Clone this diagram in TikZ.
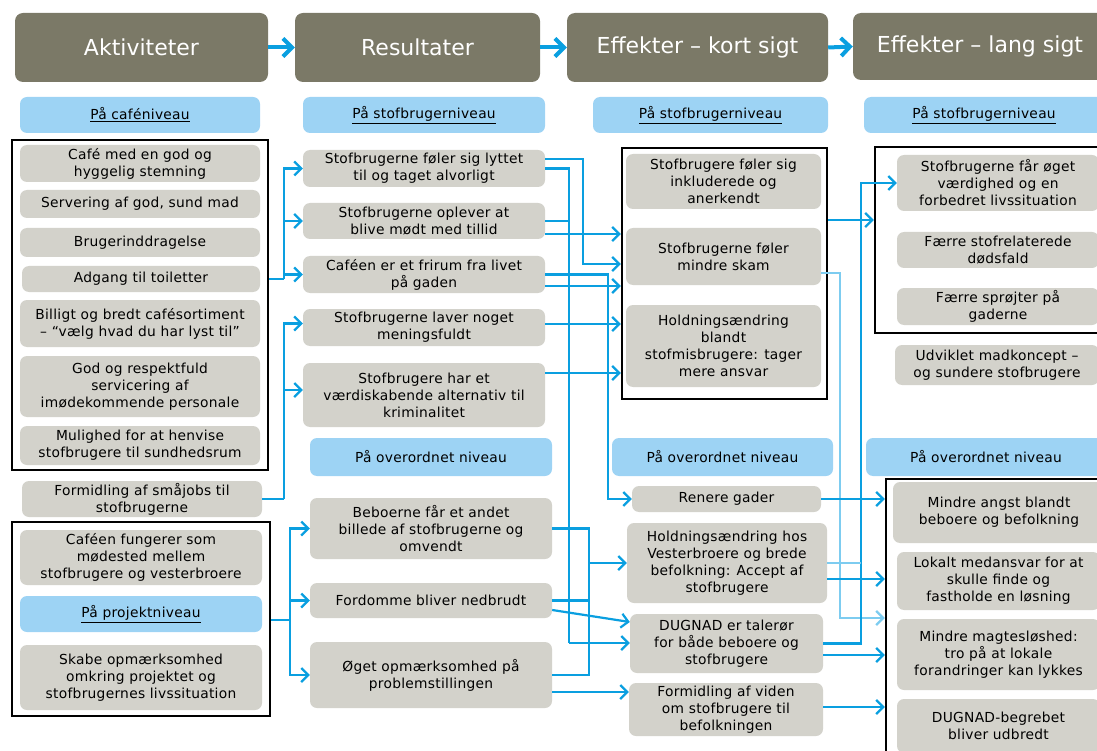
\documentclass[tikz,border=0pt]{standalone}
\usepackage{fontspec}
\setmainfont{DejaVu Sans}
\newfontfamily\bodyf[LetterSpace=2.0]{DejaVu Sans}
\usetikzlibrary{arrows.meta}
\definecolor{hdrgray}{HTML}{7B7967}
\definecolor{boxgray}{HTML}{D3D2CB}
\definecolor{lblue}{HTML}{9DD3F4}
\definecolor{ablue}{HTML}{0A9FE0}
\definecolor{pblue}{HTML}{7DCCF0}
\begin{document}
\begin{tikzpicture}[x=1pt,y=-1pt,
 hdr/.style={fill=hdrgray, rounded corners=8pt, text=white, font=\fontsize{22}{26}\selectfont, inner sep=0pt},
 gb/.style={fill=boxgray, rounded corners=7pt, align=center, inner sep=0pt, text=black, font=\bodyf\fontsize{13.8}{17}\selectfont},
 lb/.style={gb, fill=lblue},
 grp/.style={draw=black, line width=2.5pt, inner sep=0pt},
 conn/.style={draw=ablue, line width=2.2pt},
 arr/.style={conn, -{Straight Barb[length=7pt,width=14pt]}},
 pale/.style={draw=pblue, line width=2.2pt},
 harr/.style={draw=ablue, line width=4pt, -{Straight Barb[length=9pt,width=18pt]}},
]
\useasboundingbox (0,0) rectangle (1097,751);
\clip (0,0) rectangle (1097,751);

% headers
\node[hdr, minimum width=253pt, minimum height=69pt] (h1) at (141.5,47.5) {Aktiviteter};
\node[hdr, minimum width=245pt, minimum height=69pt] (h2) at (417.5,47.5) {Resultater};
\node[hdr, minimum width=261pt, minimum height=69pt] (h3) at (697.5,47.5) {Effekter – kort sigt};
\node[hdr, minimum width=254pt, minimum height=67pt] (h4) at (980,46.5) {Effekter – lang sigt};

% blue labels row 1
\node[lb, minimum width=240pt, minimum height=36pt] (b1) at (140,115) {\underline{På caféniveau}};
\node[lb, minimum width=242pt, minimum height=36pt] (b2) at (424,115) {\underline{På stofbrugerniveau}};
\node[lb, minimum width=235pt, minimum height=36pt] (b3) at (710.5,115) {\underline{På stofbrugerniveau}};
\node[lb, minimum width=240pt, minimum height=36pt] (b4) at (984,115) {\underline{På stofbrugerniveau}};

% column 1
\node[gb, minimum width=240pt, minimum height=37pt] (a1) at (140,163.5) {Café med en god og\\hyggelig stemning};
\node[gb, minimum width=240pt, minimum height=28pt] (a2) at (140,204) {Servering af god, sund mad};
\node[gb, minimum width=240pt, minimum height=29pt] (a3) at (140,242.5) {Brugerinddragelse};
\node[gb, minimum width=238pt, minimum height=26pt] (a4) at (141,279) {Adgang til toiletter};
\node[gb, minimum width=240pt, minimum height=47pt] (a5) at (140,323.5) {Billigt og bredt cafésortiment\\– “vælg hvad du har lyst til”};
\node[gb, minimum width=240pt, minimum height=61pt] (a6) at (140,386.5) {God og respektfuld\\servicering af\\imødekommende personale};
\node[gb, minimum width=240pt, minimum height=39pt] (a7) at (140,445.5) {Mulighed for at henvise\\stofbrugere til sundhedsrum};
\node[gb, minimum width=240pt, minimum height=36pt] (a8) at (142,499) {Formidling af småjobs til\\stofbrugerne};
\node[gb, minimum width=242pt, minimum height=55pt] (a9) at (141,557.5) {Caféen fungerer som\\mødested mellem\\stofbrugere og vesterbroere};
\node[lb, minimum width=242pt, minimum height=36pt] (b5) at (141,614) {\underline{På projektniveau}};
\node[gb, minimum width=242pt, minimum height=65pt] (a10) at (141,677.5) {Skabe opmærksomhed\\omkring projektet og\\stofbrugernes livssituation};

% column 2
\node[gb, minimum width=242pt, minimum height=37pt] (r1) at (424,168.5) {Stofbrugerne føler sig lyttet\\til og taget alvorligt};
\node[gb, minimum width=242pt, minimum height=36pt] (r2) at (424,221) {Stofbrugerne oplever at\\blive mødt med tillid};
\node[gb, minimum width=242pt, minimum height=37pt] (r3) at (424,274.5) {Caféen er et frirum fra livet\\på gaden};
\node[gb, minimum width=242pt, minimum height=37pt] (r4) at (424,327.5) {Stofbrugerne laver noget\\meningsfuldt};
\node[gb, minimum width=242pt, minimum height=64pt] (r5) at (424,395) {Stofbrugere har et\\værdiskabende alternativ til\\kriminalitet};
\node[lb, minimum width=242pt, minimum height=38pt] (b6) at (431,457) {På overordnet niveau};
\node[gb, minimum width=242pt, minimum height=61pt] (r6) at (431,528.5) {Beboerne får et andet\\billede af stofbrugerne og\\omvendt};
\node[gb, minimum width=242pt, minimum height=35pt] (r7) at (431,600.5) {Fordomme bliver nedbrudt};
\node[gb, minimum width=242pt, minimum height=66pt] (r8) at (431,675) {Øget opmærksomhed på\\problemstillingen};

% column 3
\node[gb, minimum width=195pt, minimum height=55pt] (e1) at (723.5,181.5) {Stofbrugere føler sig\\inkluderede og\\anerkendt};
\node[gb, minimum width=195pt, minimum height=57pt] (e2) at (723.5,256.5) {Stofbrugerne føler\\mindre skam};
\node[gb, minimum width=195pt, minimum height=82pt] (e3) at (723.5,346) {Holdningsændring\\blandt\\stofmisbrugere: tager\\mere ansvar};
\node[lb, minimum width=221pt, minimum height=38pt] (b7) at (722.5,457) {På overordnet niveau};
\node[gb, minimum width=189pt, minimum height=26pt] (e4) at (726.5,499) {Renere gader};
\node[gb, minimum width=200pt, minimum height=80pt] (e5) at (727,563) {Holdningsændring hos\\Vesterbroere og brede\\befolkning: Accept af\\stofbrugere};
\node[gb, minimum width=193pt, minimum height=59pt] (e6) at (726.5,643.5) {DUGNAD er talerør\\for både beboere og\\stofbrugere};
\node[gb, minimum width=194pt, minimum height=53pt] (e7) at (726,709.5) {Formidling af viden\\om stofbrugere til\\befolkningen};

% column 4
\node[gb, minimum width=202pt, minimum height=56pt] (l1) at (998,183) {Stofbrugerne får øget\\værdighed og en\\forbedret livssituation};
\node[gb, minimum width=202pt, minimum height=36pt] (l2) at (998,250) {Færre stofrelaterede\\dødsfald};
\node[gb, minimum width=202pt, minimum height=37pt] (l3) at (998,306.5) {Færre sprøjter på\\gaderne};
\node[gb, minimum width=204pt, minimum height=40pt] (l4) at (997,365) {Udviklet madkoncept –\\og sundere stofbrugere};
\node[lb, minimum width=240pt, minimum height=38pt] (b8) at (986,457) {På overordnet niveau};
\node[gb, minimum width=212pt, minimum height=61pt] (m1) at (999,512.5) {Mindre angst blandt\\beboere og befolkning};
\node[gb, minimum width=203pt, minimum height=58pt] (m2) at (998.5,581) {Lokalt medansvar for at\\skulle finde og\\fastholde en løsning};
\node[gb, minimum width=203pt, minimum height=71pt] (m3) at (998.5,654.5) {Mindre magtesløshed:\\tro på at lokale\\forandringer kan lykkes};
\node[gb, minimum width=203pt, minimum height=54pt] (m4) at (998.5,726) {DUGNAD-begrebet\\bliver udbredt};

% group frames
\node[grp, minimum width=256pt, minimum height=330pt] (F1) at (140,305) {};
\node[grp, minimum width=258pt, minimum height=194pt] (F2) at (141,619) {};
\node[grp, minimum width=205pt, minimum height=251pt] (F3) at (724.5,273.5) {};
\node[grp, minimum width=235pt, minimum height=186pt] (F4) at (992.5,240) {};
\node[grp, minimum width=224pt, minimum height=286pt] (F5) at (998,622) {};

% header arrows
\draw[harr] (h1.east) -- (h2.west);
\draw[harr] (h2.east) -- (h3.west);
\draw[harr] (h3.east) -- (h4.west);

% column 1 -> 2
\coordinate (j3) at (284,279);
\draw[conn] (a4 -| F1.east) -- (j3);
\draw[arr] (j3) |- (r1.west);
\draw[arr] (j3) |- (r2.west);
\draw[arr] (j3) |- (r3.west);
\coordinate (j4) at (284,499);
\coordinate (t4) at ([yshift=4pt]r4.west);
\coordinate (t5) at ([yshift=5pt]r5.west);
\draw[conn] (a8.east) -- (j4);
\draw[arr] (j4) |- (t4);
\draw[arr] (j4) |- (t5);
\coordinate (j5) at (290,620);
\draw[conn] (F2.east |- j5) -- (j5);
\draw[arr] (j5) |- (r6.west);
\draw[arr] (j5) |- (r7.west);
\draw[arr] (j5) |- (r8.west);

% column 2 -> 3
\coordinate (o1a) at ([yshift=9.5pt]r1.east);
\coordinate (k1) at (583,264);
\draw[arr] (o1a) -| (k1) -- (k1 -| F3.west);
\coordinate (j2) at (569,643);
\draw[conn] (r1.east) -| (j2);
\draw[conn] (r2.east) -| (j2);
\draw[arr] (j2) -- (j2 -| e6.west);
\coordinate (o2b) at ([yshift=-13pt]r2.east);
\draw[arr] (o2b) -- (o2b -| F3.west);
\coordinate (j6) at (608,499);
\draw[arr] (r3.east) -| (j6) -- (e4.west);
\coordinate (o3b) at ([yshift=-11.5pt]r3.east);
\draw[arr] (o3b) -- (o3b -| F3.west);
\coordinate (o4) at ([yshift=3.5pt]r4.east);
\draw[arr] (o4) -- (o4 -| F3.west);
\coordinate (o5) at ([yshift=22pt]r5.east);
\draw[arr] (o5) -- (o5 -| F3.west);
\coordinate (j1) at (589,563);
\draw[conn] (r6.east) -| (j1);
\draw[conn] (r7.east) -| (j1);
\draw[conn] (r8.east) -| (j1);
\draw[arr] (j1) -- (e5.west);
\coordinate (o7b) at ([yshift=-9.5pt]r7.east);
\coordinate (t6a) at ([yshift=21.5pt]e6.west);
\draw[arr] (o7b) -- (t6a);
\coordinate (o8b) at ([yshift=-17pt]r8.east);
\draw[arr] (o8b) -- (o8b -| e7.west);

% column 3 -> 4
\coordinate (g1) at ([yshift=53.5pt]F3.east);
\draw[arr] (g1) -- (g1 -| F4.west);
\coordinate (o2s) at ([yshift=-16.5pt]e2.east);
\coordinate (k2) at (840,618);
\draw[pale, -{Straight Barb[length=7pt,width=14pt]}] (o2s) -| (k2) -- (k2 -| F5.west);
\coordinate (j7) at (861,183);
\draw[arr] (e6.east) -| (j7) -- (l1.west);
\draw[pale] (e5.east) -- (e5.east -| j7);
\coordinate (o5b) at ([yshift=-16pt]e5.east);
\draw[arr] (o5b) -- (o5b -| F5.west);
\coordinate (o6b) at ([yshift=-11.5pt]e6.east);
\draw[arr] (o6b) -- (o6b -| F5.west);
\draw[arr] (e4.east) -- (e4.east -| F5.west);
\coordinate (o7) at ([yshift=2.5pt]e7.east);
\draw[arr] (o7) -- (o7 -| F5.west);
\end{tikzpicture}
\end{document}
